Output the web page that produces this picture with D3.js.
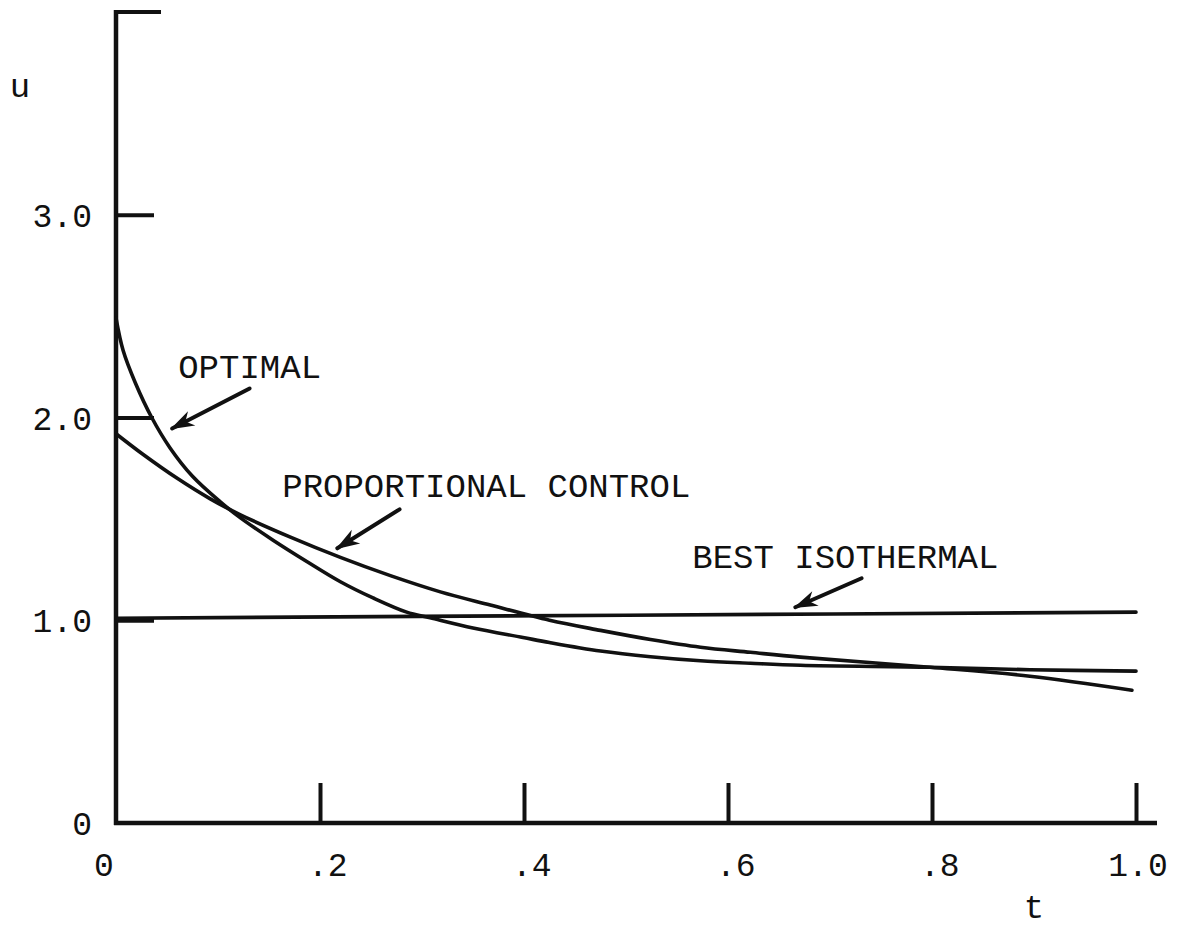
<!DOCTYPE html>
<html><head><meta charset="utf-8">
<script src="https://cdn.jsdelivr.net/npm/d3@7"></script>
<style>
body{margin:0;background:#fff}
text{font-family:"Liberation Mono","DejaVu Sans Mono",monospace;fill:#111}
</style>
</head><body><svg id="c" width="1182" height="929"></svg>
<script>
// ---- data ----
const optimalT = [0, 0.007, 0.019, 0.035, 0.053, 0.075, 0.102, 0.122, 0.154, 0.187, 0.220, 0.252, 0.285, 0.308, 0.350, 0.399, 0.425, 0.475, 0.524, 0.573, 0.622, 0.671, 0.798, 0.896, 1.0];
const optimalU = [2.49, 2.33, 2.17, 2.00, 1.85, 1.71, 1.585, 1.505, 1.395, 1.29, 1.19, 1.11, 1.04, 1.012, 0.962, 0.915, 0.89, 0.848, 0.82, 0.80, 0.788, 0.778, 0.768, 0.756, 0.749];
const proportionalT = [0, 0.026, 0.060, 0.092, 0.122, 0.171, 0.220, 0.269, 0.318, 0.367, 0.425, 0.475, 0.524, 0.573, 0.622, 0.671, 0.798, 0.896, 0.996];
const proportionalU = [1.92, 1.82, 1.70, 1.60, 1.52, 1.41, 1.31, 1.22, 1.14, 1.075, 1.0, 0.95, 0.905, 0.867, 0.842, 0.818, 0.768, 0.724, 0.655];
const isothermalT = [0, 0.5, 1.0];
const isothermalU = [1.01, 1.025, 1.04];
const xTickValues = [0, 0.2, 0.4, 0.6, 0.8, 1.0];
const xTickLabels = ["0", ".2", ".4", ".6", ".8", "1.0"];
const yTickValues = [0, 1, 2, 3];
const yTickLabels = ["0", "1.0", "2.0", "3.0"];
const xAxisLabel = "t";
const yAxisLabel = "u";
// annotation: label, label anchor (t,u), arrow tail (t,u), arrow head (t,u)
const annLabels = ["OPTIMAL", "PROPORTIONAL CONTROL", "BEST ISOTHERMAL"];
const annTextT = [0.061, 0.163, 0.565];
const annTextU = [2.197, 1.606, 1.256];
const annTailT = [0.131, 0.278, 0.731];
const annTailU = [2.143, 1.547, 1.207];
const annHeadT = [0.055, 0.217, 0.666];
const annHeadU = [1.946, 1.355, 1.064];

// ---- drawing ----
const svg = d3.select("#c");
svg.append("rect").attr("width",1182).attr("height",929).attr("fill","#fff");
const x = d3.scaleLinear().domain([0,1]).range([116,1136]);
const y = d3.scaleLinear().domain([0,4]).range([823,12]);
const ink = "#111";

svg.append("defs").append("marker")
  .attr("id","ah").attr("markerUnits","userSpaceOnUse")
  .attr("viewBox","-24 -10 28 20").attr("refX",0).attr("refY",0)
  .attr("markerWidth",28).attr("markerHeight",20).attr("orient","auto")
  .append("path").attr("d","M2,0 L-22,-8 L-15,0 L-22,8 Z").attr("fill",ink);

// x axis (ticks pointing up)
const gx = svg.append("g").attr("transform",`translate(0,${y(0)})`)
  .call(d3.axisBottom(x).tickValues(xTickValues.slice(1)).tickSize(-40).tickSizeOuter(0).tickFormat(""));
gx.select(".domain").remove();
gx.selectAll(".tick line").attr("stroke",ink).attr("stroke-width",4);
svg.append("line").attr("x1",x(0)-2).attr("x2",x(1)+21).attr("y1",y(0)).attr("y2",y(0))
  .attr("stroke",ink).attr("stroke-width",4.5);

// y axis (ticks pointing right)
const gy = svg.append("g").attr("transform",`translate(${x(0)},0)`)
  .call(d3.axisLeft(y).tickValues([1,2,3]).tickSize(-38).tickSizeOuter(0).tickFormat(""));
gy.select(".domain").remove();
gy.selectAll(".tick line").attr("stroke",ink).attr("stroke-width",4);
svg.append("line").attr("x1",x(0)).attr("x2",x(0)).attr("y1",y(0)+2).attr("y2",y(4)-2)
  .attr("stroke",ink).attr("stroke-width",4.5);
svg.append("line").attr("x1",x(0)).attr("x2",x(0)+45).attr("y1",y(4)).attr("y2",y(4))
  .attr("stroke",ink).attr("stroke-width",4);

// tick labels
svg.selectAll("text.xl").data(xTickValues).enter().append("text").attr("class","xl")
  .attr("x",(d,i)=> xTickLabels[i].startsWith(".") ? x(d)-12 : (d===0 ? x(d)-12 : x(d)+2))
  .attr("y",876)
  .attr("text-anchor",(d,i)=> xTickLabels[i].startsWith(".") ? "start" : "middle")
  .attr("font-size",33).text((d,i)=>xTickLabels[i]);
svg.selectAll("text.yl").data(yTickValues).enter().append("text").attr("class","yl")
  .attr("x",92).attr("y",d=>y(d)+12).attr("text-anchor","end")
  .attr("font-size",33).text((d,i)=>yTickLabels[i]);
svg.append("text").attr("x",20).attr("y",97).attr("text-anchor","middle").attr("font-size",34).text(yAxisLabel);
svg.append("text").attr("x",1034).attr("y",918).attr("text-anchor","middle").attr("font-size",34).text(xAxisLabel);

// curves
const line = d3.line().x(d=>x(d[0])).y(d=>y(d[1])).curve(d3.curveCatmullRom.alpha(0.5));
const series = [
  d3.zip(isothermalT, isothermalU),
  d3.zip(proportionalT, proportionalU),
  d3.zip(optimalT, optimalU)
];
svg.selectAll("path.curve").data(series).enter().append("path").attr("class","curve")
  .attr("d",line).attr("fill","none").attr("stroke",ink).attr("stroke-width",3.6)
  .attr("stroke-linecap","round");

// annotations
annLabels.forEach((lab,i)=>{
  svg.append("text").attr("x",x(annTextT[i])).attr("y",y(annTextU[i]))
    .attr("font-size",34).text(lab);
  svg.append("line").attr("x1",x(annTailT[i])).attr("y1",y(annTailU[i]))
    .attr("x2",x(annHeadT[i])).attr("y2",y(annHeadU[i]))
    .attr("stroke",ink).attr("stroke-width",4).attr("stroke-linecap","round")
    .attr("marker-end","url(#ah)");
});
</script>
</body></html>
